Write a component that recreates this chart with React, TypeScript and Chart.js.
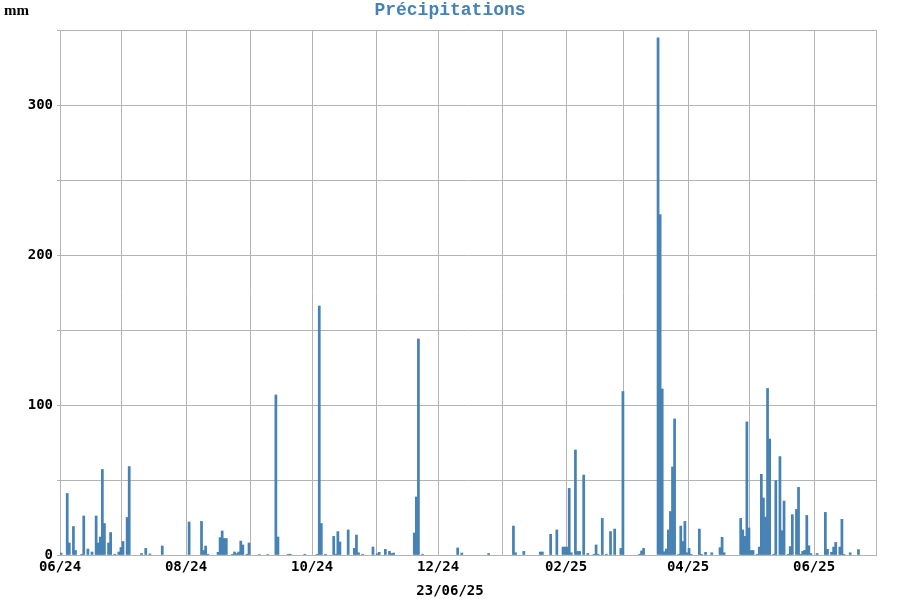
import React, { useEffect, useRef } from "react";
import { Chart, registerables } from "chart.js";

Chart.register(...registerables);

// Days counted from 1 June 2024
const rainDay: number[] = [
  0, 3, 4, 6, 7, 10, 11, 13, 15, 17, 18, 19, 20, 21, 23, 24, 26, 28, 29, 30, 32, 33, 39, 41, 43, 49,
  62, 68, 69, 70, 71, 76, 77, 78, 79, 80, 83, 84, 85, 86, 87, 88, 90, 91, 96, 100, 104, 105, 110, 111,
  118, 124, 125, 126, 128, 132, 133, 134, 135, 139, 142, 143, 144, 146, 151, 153, 154, 157, 159, 160, 161,
  171, 172, 173, 175, 192, 194, 207, 219, 220, 224, 232, 233, 237, 240, 243, 244, 245, 246, 247, 249, 250,
  251, 253, 255, 258, 259, 260, 262, 264, 266, 268, 271, 272, 280, 281, 282, 289, 290, 291, 292, 293, 294,
  295, 296, 297, 299, 300, 301, 302, 303, 304, 305, 309, 310, 312, 315, 319, 320, 321, 329, 330, 331, 332,
  333, 334, 335, 337, 338, 339, 340, 341, 342, 343, 345, 346, 348, 349, 350, 352, 353, 354, 356, 357, 358,
  359, 360, 361, 362, 363, 366, 370, 371, 373, 374, 375, 377, 378, 379, 382, 386,
];

const rainMm: number[] = [
  1.3, 41, 8, 19, 3, 0.5, 26, 4, 2, 26, 8, 12, 57, 21, 8, 15, 0.5, 2, 5, 9, 25, 59, 1, 4.4, 0.7, 6,
  22, 22.4, 3, 6, 0.5, 1.8, 11.6, 16, 11, 11, 0.5, 2, 1, 2, 9.3, 6.7, 0.5, 8, 0.3, 0.3, 106.7, 12, 0.5, 0.5,
  0.5, 0.5, 166, 21, 0.5, 12.4, 0.5, 15.6, 8.7, 16.7, 4.4, 13.3, 1.5, 0.5, 5.3, 0.8, 1.8, 3.8, 2.4, 1, 1.3,
  14.7, 38.7, 144, 0.5, 4.7, 1.3, 1, 19.3, 1.5, 2.4, 2, 2, 13.8, 16.7, 5.3, 5.3, 5.3, 44.4, 1.5, 70, 2.4,
  2.4, 53.3, 1, 0.5, 6.7, 0.5, 24.4, 0.5, 15.6, 17.3, 4.4, 109, 0.5, 2.7, 4.4, 344.7, 227, 110.7, 2.2, 4, 16.7,
  29, 58.7, 90.7, 0.5, 19.3, 9, 22.4, 1.5, 4.4, 0.5, 17.3, 0.5, 1.8, 1.5, 4.9, 11.8, 1.5, 24.4, 16.7, 12.4, 88.7,
  18, 3, 3, 0.5, 5.3, 53.8, 38, 25.3, 111, 77.3, 0.5, 49.6, 65.6, 16.2, 36, 0.5, 5.6, 26.9, 30.4, 45.1, 0.5,
  2.4, 3.1, 26.4, 6.2, 1, 1, 28.4, 3.8, 1.8, 5.3, 8.4, 5.3, 23.8, 0.5, 1.5, 3.6,
];

// Month starts (days since 1 June 2024)
const monthTicks: number[] = [0, 30, 61, 92, 122, 153, 183, 214, 245, 273, 304, 334, 365, 395];
const monthLabels: string[] = ["06/24", "", "08/24", "", "10/24", "", "12/24", "", "02/25", "", "04/25", "", "06/25", ""];

const titleText = "Précipitations";
const unitText = "mm";
const dateText = "23/06/25";

const BLUE = "#4682b4";
const GRID = "#b4b4b4";
const MONO = "'DejaVu Sans Mono', monospace";

export default function App() {
  const ref = useRef<HTMLCanvasElement | null>(null);

  useEffect(() => {
    document.body.style.margin = "0";
    const canvas = ref.current;
    if (!canvas) return;

    const textPlugin = {
      id: "texts",
      afterDraw(chart: any) {
        const ctx = chart.ctx;
        ctx.save();
        ctx.fillStyle = BLUE;
        ctx.font = "bold 18px 'Liberation Mono', monospace";
        ctx.textAlign = "center";
        ctx.textBaseline = "middle";
        ctx.fillText(titleText, 450, 10);
        ctx.fillStyle = "#000";
        ctx.font = "bold 15px 'Liberation Serif', serif";
        ctx.textAlign = "left";
        ctx.fillText(unitText, 4, 11);
        ctx.font = `bold 14px ${MONO}`;
        ctx.textAlign = "center";
        ctx.fillText(dateText, 450, 591);
        ctx.restore();
      },
    };

    const chart = new Chart(canvas, {
      type: "bar",
      data: {
        datasets: [
          {
            data: rainDay.map((d, i) => ({ x: d + 0.5, y: rainMm[i] })),
            backgroundColor: BLUE,
            borderWidth: 0,
            barPercentage: 1,
            categoryPercentage: 1,
          },
        ],
      },
      options: {
        animation: false,
        responsive: false,
        devicePixelRatio: 1,
        layout: { padding: { top: 30, right: 24, left: 0, bottom: 0 } },
        plugins: { legend: { display: false }, tooltip: { enabled: false }, title: { display: false } },
        scales: {
          x: {
            type: "linear",
            min: 0,
            max: 395,
            offset: false,
            grid: { color: GRID, drawTicks: false, lineWidth: 1, offset: false },
            border: { color: GRID },
            afterBuildTicks: (scale: any) => {
              scale.ticks = monthTicks.map((v) => ({ value: v }));
            },
            afterFit: (scale: any) => {
              scale.height = 45;
            },
            ticks: {
              autoSkip: false,
              maxRotation: 0,
              padding: 4,
              color: "#000",
              font: { family: MONO, size: 14, weight: "bold" },
              callback: (_v: any, i: number) => monthLabels[i] ?? "",
            },
          },
          y: {
            min: 0,
            max: 350,
            grid: { color: GRID, tickLength: 3, lineWidth: 1 },
            border: { color: GRID },
            afterFit: (scale: any) => {
              scale.width = 60;
            },
            ticks: {
              stepSize: 50,
              padding: 4,
              color: "#000",
              font: { family: MONO, size: 14, weight: "bold" },
              callback: (v: any) => (Number(v) % 100 === 0 ? String(v) : ""),
            },
          },
        },
      },
      plugins: [textPlugin],
    } as any);

    return () => chart.destroy();
  }, []);

  return (
    <div style={{ width: 900, height: 600, position: "relative", background: "#fff" }}>
      <canvas ref={ref} width={900} height={600} />
    </div>
  );
}
